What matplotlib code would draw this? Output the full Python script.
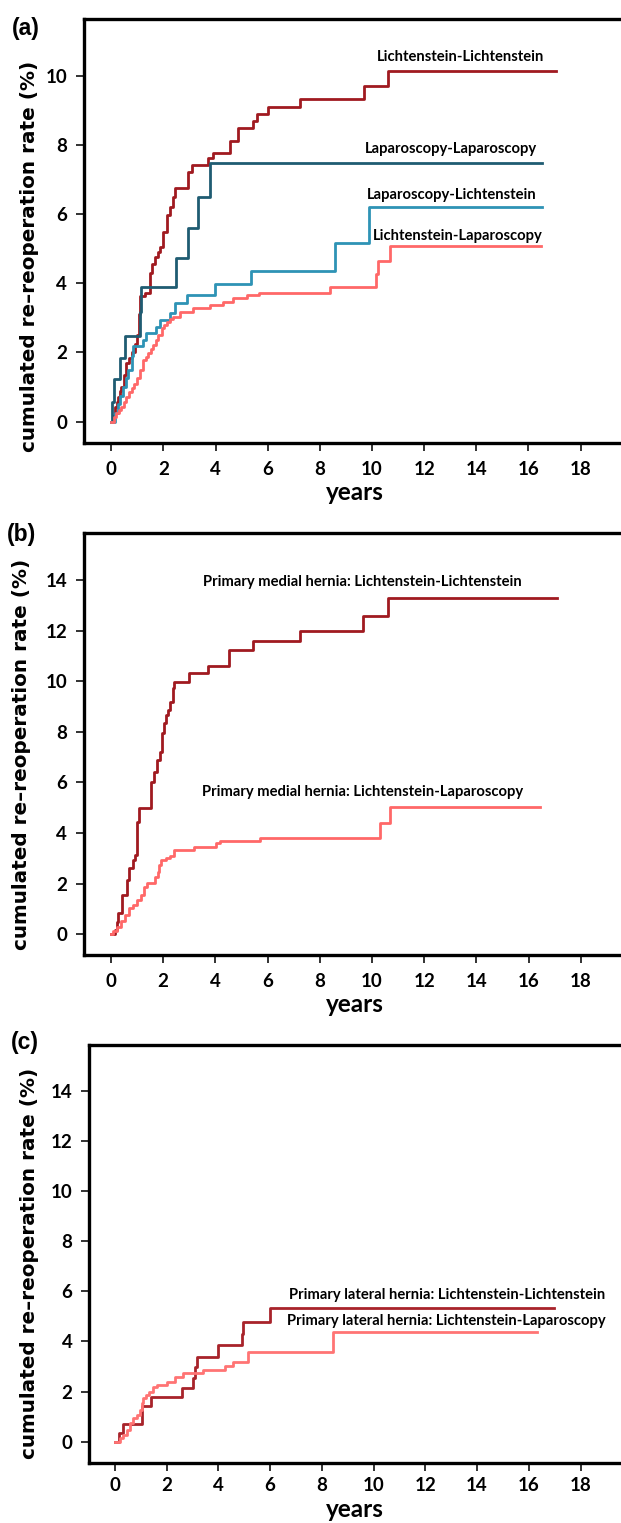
import matplotlib.pyplot as plt

# ---- panel (a): all four groups
a_ll_t = [0, 0.06, 0.13, 0.2, 0.26, 0.33, 0.39, 0.48, 0.58, 0.68, 0.78, 0.9, 1.0, 1.05, 1.1, 1.29, 1.48, 1.58, 1.68, 1.78,
          1.87, 2.0, 2.12, 2.25, 2.38, 2.45, 2.96, 3.08, 3.72, 3.91, 4.54, 4.85, 5.45, 5.57, 6.0, 7.23, 9.68, 10.62, 17.07]
a_ll_v = [0, 0.15, 0.43, 0.58, 0.72, 0.88, 1.01, 1.35, 1.69, 1.85, 2.0, 2.25, 2.51, 3.1, 3.62, 3.71, 4.29, 4.55, 4.77, 4.9,
          5.06, 5.5, 5.98, 6.2, 6.51, 6.75, 7.23, 7.43, 7.62, 7.76, 8.13, 8.5, 8.7, 8.9, 9.11, 9.34, 9.71, 10.15, 10.15]
a_lapLap_t = [0, 0.04, 0.09, 0.32, 0.51, 1.09, 1.15, 2.47, 2.94, 3.33, 3.77, 16.54]
a_lapLap_v = [0, 0.58, 1.23, 1.83, 2.49, 3.18, 3.89, 4.73, 5.59, 6.51, 7.47, 7.47]
a_lapLich_t = [0, 0.13, 0.26, 0.35, 0.45, 0.55, 0.65, 0.78, 0.84, 1.22, 1.35, 1.73, 1.87, 2.25, 2.45, 2.92, 3.98, 5.35,
               8.57, 9.89, 16.54]
a_lapLich_v = [0, 0.25, 0.5, 0.75, 1.0, 1.25, 1.5, 1.9, 2.2, 2.37, 2.55, 2.75, 2.94, 3.15, 3.42, 3.66, 3.98, 4.37,
               5.18, 6.21, 6.21]
a_lichLap_t = [0, 0.1, 0.19, 0.29, 0.39, 0.48, 0.58, 0.68, 0.78, 0.87, 0.97, 1.1, 1.22, 1.32, 1.42, 1.52, 1.61, 1.7, 1.8,
               1.93, 2.03, 2.12, 2.25, 2.38, 2.63, 3.14, 3.78, 4.3, 4.68, 5.19, 5.67, 8.37, 10.16, 10.24, 10.69, 16.47]
a_lichLap_v = [0, 0.12, 0.24, 0.33, 0.43, 0.58, 0.72, 0.85, 0.97, 1.1, 1.25, 1.5, 1.78, 1.88, 1.98, 2.1, 2.22, 2.37, 2.51,
               2.7, 2.8, 2.89, 2.97, 3.04, 3.18, 3.28, 3.38, 3.47, 3.57, 3.66, 3.71, 3.9, 4.28, 4.65, 5.08, 5.08]

# ---- panel (b): primary medial hernia
b_ll_t = [0, 0.15, 0.23, 0.29, 0.44, 0.61, 0.68, 0.84, 0.91, 0.99, 1.08, 1.55, 1.64, 1.75, 1.9, 1.97, 2.05, 2.13, 2.2,
          2.28, 2.38, 2.43, 3.01, 3.72, 4.54, 5.45, 7.25, 9.66, 10.63, 17.09]
b_ll_v = [0, 0.17, 0.5, 0.83, 1.55, 2.15, 2.61, 2.94, 3.13, 4.45, 4.98, 6.03, 6.43, 6.89, 7.22, 7.94, 8.34, 8.67, 8.86,
          9.19, 9.72, 9.98, 10.31, 10.61, 11.23, 11.6, 12.0, 12.59, 13.31, 13.31]
b_lichLap_t = [0, 0.08, 0.23, 0.38, 0.53, 0.68, 0.84, 0.99, 1.14, 1.25, 1.37, 1.7, 1.79, 1.84, 1.93, 2.13, 2.28, 2.43,
               3.19, 4.01, 4.18, 5.7, 10.3, 10.69, 16.44]
b_lichLap_v = [0, 0.11, 0.3, 0.54, 0.76, 1.03, 1.16, 1.36, 1.55, 1.88, 2.01, 2.28, 2.48, 2.74, 2.94, 3.0, 3.09, 3.33,
               3.46, 3.6, 3.7, 3.79, 4.39, 5.02, 5.02]

# ---- panel (c): primary lateral hernia
c_ll_t = [0, 0.17, 0.3, 1.06, 1.38, 2.58, 3.0, 3.1, 3.19, 3.97, 4.9, 4.94, 6.0, 16.96]
c_ll_v = [0, 0.33, 0.7, 1.42, 1.77, 2.13, 2.56, 2.99, 3.39, 3.86, 4.29, 4.79, 5.33, 5.33]
c_lichLap_t = [0, 0.2, 0.33, 0.46, 0.58, 0.71, 0.84, 0.97, 1.04, 1.1, 1.2, 1.33, 1.49, 1.61, 2.0, 2.32, 2.62, 3.42,
               4.26, 4.58, 5.16, 8.42, 16.3]
c_lichLap_v = [0, 0.13, 0.27, 0.47, 0.73, 0.93, 1.07, 1.27, 1.53, 1.73, 1.86, 2.0, 2.2, 2.26, 2.4, 2.57, 2.73, 2.86,
               3.02, 3.19, 3.59, 4.39, 4.39]

xticks = list(range(0, 20, 2))

dark_red = "#a01a20"
teal = "#1f5c72"
blue = "#2e93b5"
salmon = "#ff6868"

tick_font = ["Lato", "DejaVu Sans"]
note_font = ["Lato", "DejaVu Sans"]

fig = plt.figure(figsize=(6.21, 15.23), dpi=100)
W, H = 621.0, 1523.0


def make_axes(left, top, bottom, x0, per_year, ylim, yticks, lab_y, lab_x_px, xpad, xlab_y):
    xmin = -(x0 - left) / per_year
    xmax = 20.0
    width = (xmax - xmin) * per_year
    ax = fig.add_axes([left / W, 1 - bottom / H, width / W, (bottom - top) / H])
    ax.set_xlim(xmin, xmax)
    ax.set_ylim(*ylim)
    ax.set_xticks(xticks)
    ax.set_yticks(yticks)
    for s in ["left", "top", "bottom"]:
        ax.spines[s].set_linewidth(2.4)
    ax.spines["right"].set_visible(False)
    ax.tick_params(direction="out", length=6, width=1.3, colors="#222222", pad=6)
    ax.tick_params(axis="x", pad=xpad)
    for lab in ax.get_xticklabels() + ax.get_yticklabels():
        lab.set_fontfamily(tick_font)
        lab.set_fontsize(13.5)
        lab.set_fontweight("bold")
        lab.set_color("black")
    ax.set_ylabel("cumulated re\u2013reoperation rate (%)", fontsize=14.4, fontweight="bold")
    ax.yaxis.set_label_coords((lab_x_px - left) / width, lab_y)
    ax.set_xlabel("years", fontsize=17.5, fontweight="bold", family=["Lato", "DejaVu Sans"])
    ax.xaxis.set_label_coords((355 - left) / width, xlab_y)
    return ax


# (a)
ax1 = make_axes(84, 19, 443, 111.3, 26.07, (-0.62, 11.65), [0, 2, 4, 6, 8, 10], 0.44, 39, 7, -0.09)
ax1.step(a_ll_t, a_ll_v, where="post", color=dark_red, lw=2)
ax1.step(a_lapLap_t, a_lapLap_v, where="post", color=teal, lw=2)
ax1.step(a_lapLich_t, a_lapLich_v, where="post", color=blue, lw=2)
ax1.step(a_lichLap_t, a_lichLap_v, where="post", color=salmon, lw=2)
ax1.text(16.62, 10.55, "Lichtenstein-Lichtenstein", ha="right", va="center", fontsize=10.6,
         fontweight="bold", family=note_font)
ax1.text(16.33, 7.89, "Laparoscopy-Laparoscopy", ha="right", va="center", fontsize=10.6,
         fontweight="bold", family=note_font)
ax1.text(16.33, 6.56, "Laparoscopy-Lichtenstein", ha="right", va="center", fontsize=10.6,
         fontweight="bold", family=note_font)
ax1.text(16.56, 5.37, "Lichtenstein-Laparoscopy", ha="right", va="center", fontsize=10.6,
         fontweight="bold", family=note_font)

# (b)
ax2 = make_axes(84, 533, 955, 110.9, 26.1, (-0.82, 15.86), [0, 2, 4, 6, 8, 10, 12, 14], 0.476, 31, 7, -0.09)
ax2.step(b_ll_t, b_ll_v, where="post", color=dark_red, lw=2)
ax2.step(b_lichLap_t, b_lichLap_v, where="post", color=salmon, lw=2)
ax2.text(15.75, 13.94, "Primary medial hernia: Lichtenstein-Lichtenstein", ha="right", va="center",
         fontsize=10.6, fontweight="bold", family=note_font)
ax2.text(15.79, 5.64, "Primary medial hernia: Lichtenstein-Laparoscopy", ha="right", va="center",
         fontsize=10.6, fontweight="bold", family=note_font)

# (c)
ax3 = make_axes(89.1, 1045, 1462.7, 114.9, 25.87, (-0.84, 15.84), [0, 2, 4, 6, 8, 10, 12, 14], 0.476, 39, 4, -0.085)
ax3.step(c_ll_t, c_ll_v, where="post", color="#a8232a", lw=2)
ax3.step(c_lichLap_t, c_lichLap_v, where="post", color="#ff7474", lw=2)
ax3.text(18.94, 5.86, "Primary lateral hernia: Lichtenstein-Lichtenstein", ha="right", va="center",
         fontsize=10.6, fontweight="bold", family=note_font)
ax3.text(18.98, 4.82, "Primary lateral hernia: Lichtenstein-Laparoscopy", ha="right", va="center",
         fontsize=10.6, fontweight="bold", family=note_font)

for lab, xp, yp in [("(a)", 26, 28), ("(b)", 22, 534), ("(c)", 25, 1042)]:
    fig.text(xp / W, 1 - yp / H, lab, ha="center", va="center", fontsize=16.5, fontweight="bold",
             family=["Liberation Sans", "DejaVu Sans"])

fig.savefig("out.png", dpi=100)
